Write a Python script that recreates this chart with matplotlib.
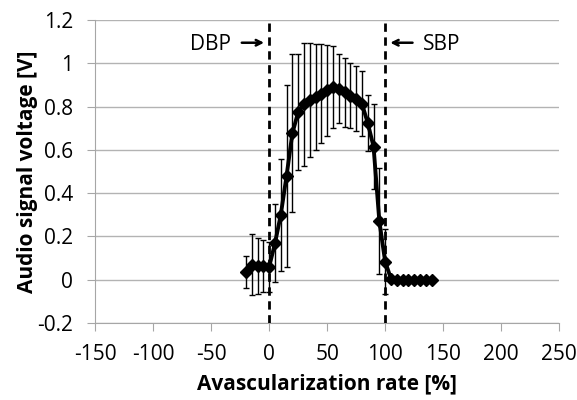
import matplotlib
matplotlib.use("Agg")
import matplotlib.pyplot as plt

# avascularization rate [%] and audio signal voltage [V]
rate = [-20, -15, -10, -5, 0, 5, 10, 15, 20, 25, 30, 35, 40, 45, 50, 55, 60,
        65, 70, 75, 80, 85, 90, 95, 100, 105, 110, 115, 120, 125, 130, 135, 140]
voltage = [0.035, 0.069, 0.065, 0.065, 0.06, 0.168, 0.30, 0.48, 0.676, 0.775,
           0.81, 0.83, 0.845, 0.86, 0.875, 0.89, 0.882, 0.866, 0.851, 0.836,
           0.813, 0.724, 0.615, 0.27, 0.084, 0.005, 0.0, 0.0, 0.0, 0.0, 0.0,
           0.0, 0.0]
err = [0.075, 0.14, 0.13, 0.12, 0.115, 0.18, 0.26, 0.42, 0.365, 0.27, 0.285,
       0.265, 0.245, 0.23, 0.21, 0.19, 0.16, 0.16, 0.15, 0.15, 0.15, 0.13,
       0.195, 0.245, 0.15, 0, 0, 0, 0, 0, 0, 0, 0]

plt.rcParams['font.family'] = ['Open Sans', 'DejaVu Sans']
plt.rcParams['axes.unicode_minus'] = False

fig = plt.figure(figsize=(5.77, 4.0), dpi=100)
ax = fig.add_axes([0.165, 0.1925, 0.804, 0.7575])

ax.errorbar(rate, voltage, yerr=err, color='black', ecolor='black',
            elinewidth=1, capsize=2, capthick=1, lw=2.8,
            marker='D', markersize=6.5, zorder=3)

ax.axvline(0, color='black', ls='--', lw=2, dashes=(3, 2), zorder=4)
ax.axvline(100, color='black', ls='--', lw=2, dashes=(3, 2), zorder=4)

ax.set_xlim(-150, 250)
ax.set_ylim(-0.2, 1.2)
ax.set_xticks(range(-150, 251, 50))
ax.set_yticks([-0.2, 0, 0.2, 0.4, 0.6, 0.8, 1, 1.2])
ax.set_yticklabels(['-0.2', '0', '0.2', '0.4', '0.6', '0.8', '1', '1.2'])

ax.yaxis.grid(True, color='#b3b3b3', lw=1)
ax.set_axisbelow(True)
for s in ['top', 'right']:
    ax.spines[s].set_visible(False)
for s in ['left', 'bottom']:
    ax.spines[s].set_color('#a6a6a6')
ax.tick_params(colors='#a6a6a6', labelcolor='black', labelsize=15,
               length=6, direction='out')
ax.tick_params(axis='x', pad=9)
ax.tick_params(axis='y', pad=10)

ax.set_xlabel('Avascularization rate [%]', fontsize=15, fontweight='bold',
              labelpad=6)
ax.set_ylabel('Audio signal voltage [V]', fontsize=15, fontweight='bold',
              labelpad=-1)

ax.annotate('', xy=(-2, 1.095), xytext=(-26, 1.095),
            arrowprops=dict(arrowstyle='->', color='black', lw=1.8))
ax.text(-33, 1.085, 'DBP', fontsize=15, ha='right', va='center')
ax.annotate('', xy=(102, 1.095), xytext=(126, 1.095),
            arrowprops=dict(arrowstyle='->', color='black', lw=1.8))
ax.text(133, 1.085, 'SBP', fontsize=15, ha='left', va='center')

fig.savefig('out.png', dpi=100)
